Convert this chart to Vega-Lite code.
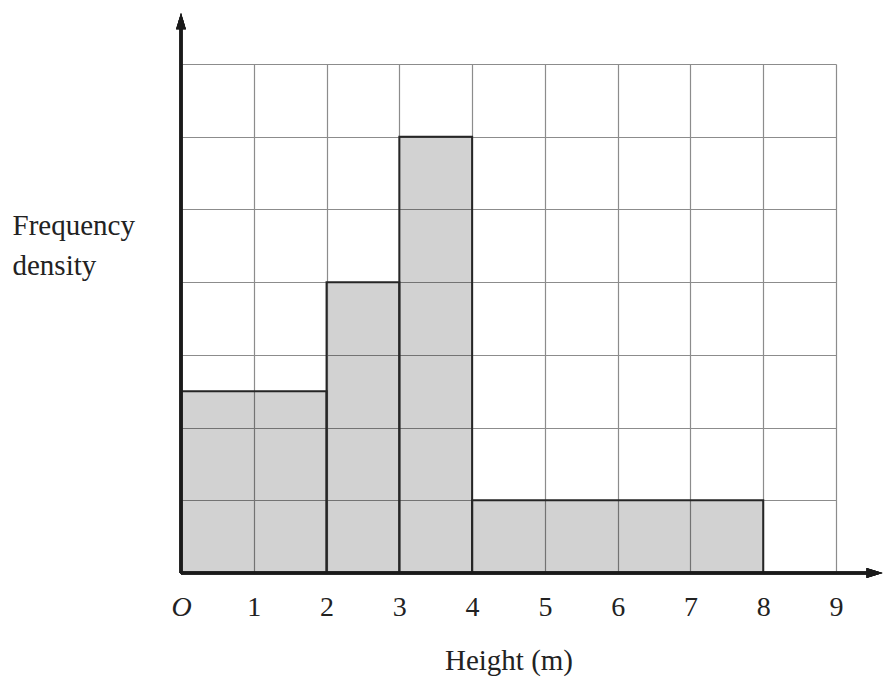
{
  "$schema": "https://vega.github.io/schema/vega-lite/v6.json",
  "autosize": "none",
  "width": 655,
  "height": 509,
  "padding": {"left": 181, "top": 64, "right": 47, "bottom": 105},
  "background": "white",
  "config": {"view": {"stroke": null}, "font": "Liberation Serif"},
  "data": {"values": [
    {"start": 0, "end": 2, "density": 2.5},
    {"start": 2, "end": 3, "density": 4},
    {"start": 3, "end": 4, "density": 6},
    {"start": 4, "end": 8, "density": 1}
  ]},
  "layer": [
    {
      "mark": {"type": "rect", "fill": "#000", "fillOpacity": 0.175, "stroke": "#262626", "strokeWidth": 2},
      "encoding": {
        "x": {
          "field": "start", "type": "quantitative",
          "scale": {"domain": [0, 9], "nice": false, "zero": false},
          "axis": {
            "values": [0, 1, 2, 3, 4, 5, 6, 7, 8, 9],
            "domain": false, "ticks": false,
            "grid": true, "gridColor": "#8c8c8c", "gridWidth": 1.2,
            "labelFont": "Liberation Serif", "labelFontSize": 28, "labelColor": "#222",
            "labelExpr": "datum.value == 0 ? 'O' : format(datum.value, 'd')",
            "labelFontStyle": {"condition": {"test": "datum.value == 0", "value": "italic"}, "value": "normal"},
            "labelBaseline": "middle", "labelPadding": 34,
            "labelFlush": false, "labelOverlap": false,
            "title": "Height (m)",
            "titleFont": "Liberation Serif", "titleFontSize": 29, "titleFontWeight": "normal", "titleColor": "#222",
            "titleBaseline": "middle", "titleY": 87
          }
        },
        "x2": {"field": "end"},
        "y": {
          "field": "density", "type": "quantitative",
          "scale": {"domain": [0, 7], "nice": false},
          "axis": {
            "values": [0, 1, 2, 3, 4, 5, 6, 7],
            "domain": false, "ticks": false, "labels": false,
            "grid": true, "gridColor": "#8c8c8c", "gridWidth": 1.2,
            "title": ["Frequency", "density"],
            "titleFont": "Liberation Serif", "titleFontSize": 29, "titleFontWeight": "normal", "titleColor": "#222",
            "titleAngle": 0, "titleAlign": "left", "titleBaseline": "alphabetic",
            "titleX": -169, "titleY": 170, "titleLineHeight": 40
          }
        },
        "y2": {"datum": 0}
      }
    },
    {
      "mark": {"type": "rule", "color": "#1a1a1a", "strokeWidth": 3},
      "encoding": {
        "x": {"datum": 0, "type": "quantitative"},
        "x2": {"datum": 9.55},
        "y": {"datum": 0, "type": "quantitative"}
      }
    },
    {
      "mark": {"type": "rule", "color": "#1a1a1a", "strokeWidth": 3},
      "encoding": {
        "x": {"datum": 0, "type": "quantitative"},
        "y": {"datum": 0, "type": "quantitative"},
        "y2": {"datum": 7.6}
      }
    },
    {
      "mark": {"type": "point", "filled": true, "color": "#1a1a1a", "opacity": 1, "size": 196, "shape": "M0,0L-2.3,-0.7L-2.3,0.7Z"},
      "encoding": {
        "x": {"datum": 9.64, "type": "quantitative"},
        "y": {"datum": 0, "type": "quantitative"}
      }
    },
    {
      "mark": {"type": "point", "filled": true, "color": "#1a1a1a", "opacity": 1, "size": 196, "shape": "M0,0L-0.7,2.3L0.7,2.3Z"},
      "encoding": {
        "x": {"datum": 0, "type": "quantitative"},
        "y": {"datum": 7.7, "type": "quantitative"}
      }
    }
  ]
}
